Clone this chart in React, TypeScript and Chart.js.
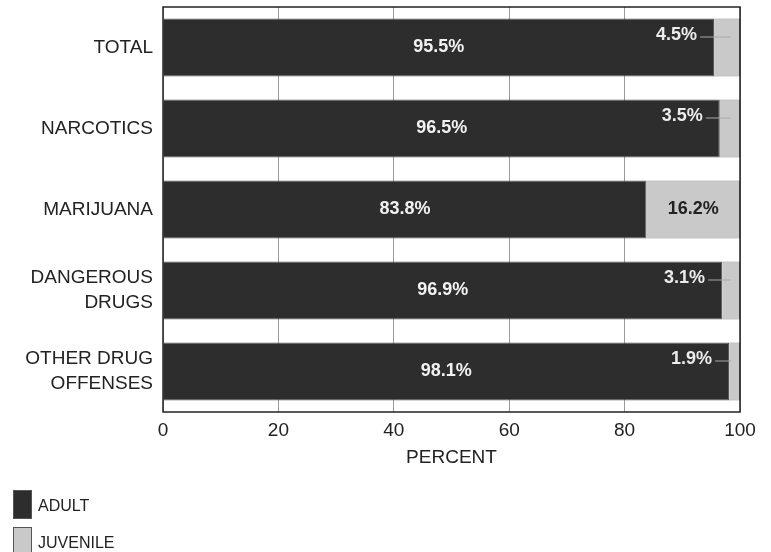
import React, { useEffect, useRef } from "react";
import { Chart, registerables } from "chart.js";

Chart.register(...registerables);

const categories: (string | string[])[] = [
  "TOTAL",
  "NARCOTICS",
  "MARIJUANA",
  ["DANGEROUS", "DRUGS"],
  ["OTHER DRUG", "OFFENSES"],
];
const adultValues = [95.5, 96.5, 83.8, 96.9, 98.1];
const juvenileValues = [4.5, 3.5, 16.2, 3.1, 1.9];
const xTicks = [0, 20, 40, 60, 80, 100];
const seriesNames = ["ADULT", "JUVENILE"];

const FONT = "'Liberation Sans', Arial, Helvetica, sans-serif";
const DARK = "#2d2d2d";
const LIGHT = "#c9c9c9";

const labelsPlugin = {
  id: "valueLabels",
  afterDatasetsDraw(chart: any) {
    const ctx = chart.ctx;
    const adultMeta = chart.getDatasetMeta(0);
    const juvMeta = chart.getDatasetMeta(1);
    ctx.save();
    ctx.font = `bold 18px ${FONT}`;
    ctx.textBaseline = "middle";
    adultMeta.data.forEach((bar: any, i: number) => {
      const a = adultValues[i];
      const j = juvenileValues[i];
      const start = bar.base;
      const end = bar.x;
      ctx.fillStyle = "#f2f2f2";
      ctx.textAlign = "center";
      ctx.fillText(a.toFixed(1) + "%", (start + end) / 2, bar.y);
      const jb = juvMeta.data[i];
      if (j >= 10) {
        ctx.fillStyle = "#222";
        ctx.textAlign = "center";
        ctx.fillText(j.toFixed(1) + "%", (jb.base + jb.x) / 2, jb.y);
      } else {
        const txt = j.toFixed(1) + "%";
        const right = end - 17;
        const ty = bar.y - 12;
        ctx.fillStyle = "#ececec";
        ctx.textAlign = "right";
        ctx.fillText(txt, right, ty);
        ctx.strokeStyle = "#a8a8a8";
        ctx.lineWidth = 1;
        ctx.beginPath();
        ctx.moveTo(right + 3, ty + 1.5);
        ctx.lineTo(jb.x - 9, ty + 1.5);
        ctx.stroke();
      }
    });
    ctx.restore();
  },
  afterDraw(chart: any) {
    const ctx = chart.ctx;
    const a = chart.chartArea;
    ctx.save();
    ctx.strokeStyle = "#222";
    ctx.lineWidth = 1.5;
    ctx.strokeRect(a.left, a.top, a.right - a.left, a.bottom - a.top);
    // legend
    const ds = chart.data.datasets;
    const rows = [490, 527];
    ds.forEach((d: any, i: number) => {
      const y = rows[i];
      ctx.fillStyle = d.backgroundColor;
      ctx.fillRect(13, y, 19, 29);
      ctx.strokeStyle = "#555";
      ctx.lineWidth = 1;
      ctx.strokeRect(13.5, y + 0.5, 18, 28);
      ctx.fillStyle = "#222";
      ctx.font = `16px ${FONT}`;
      ctx.textAlign = "left";
      ctx.textBaseline = "middle";
      ctx.fillText(d.label, 38, y + 17);
    });
    ctx.restore();
  },
};

export default function App() {
  const ref = useRef<HTMLCanvasElement | null>(null);
  useEffect(() => {
    if (!ref.current) return;
    const chart = new Chart(ref.current, {
      type: "bar",
      data: {
        labels: categories,
        datasets: [
          {
            label: seriesNames[0],
            data: adultValues,
            backgroundColor: DARK,
            borderColor: "#555",
            borderWidth: 1,
            barPercentage: 0.716,
            categoryPercentage: 1,
          },
          {
            label: seriesNames[1],
            data: juvenileValues,
            backgroundColor: LIGHT,
            borderColor: "#8a8a8a",
            borderWidth: 1,
            barPercentage: 0.716,
            categoryPercentage: 1,
          },
        ],
      },
      options: {
        indexAxis: "y",
        responsive: false,
        animation: false,
        devicePixelRatio: 1,
        layout: { padding: { top: 7, right: 31, bottom: 80, left: 0 } },
        plugins: {
          legend: { display: false },
          tooltip: { enabled: false },
        },
        scales: {
          x: {
            stacked: true,
            min: 0,
            max: 100,
            afterFit: (s: any) => {
              s.height = 60;
              s.paddingLeft = 0;
              s.paddingRight = 0;
            },
            afterBuildTicks: (s: any) => {
              s.ticks = xTicks.map((v) => ({ value: v }));
            },
            grid: { color: "#9a9a9a", lineWidth: 1, drawTicks: false },
            border: { display: false },
            ticks: {
              padding: 7,
              color: "#222",
              font: { family: FONT, size: 19 },
            },
            title: {
              display: true,
              text: "PERCENT",
              color: "#222",
              font: { family: FONT, size: 19 },
              padding: { top: 0, bottom: 3 },
            },
          },
          y: {
            stacked: true,
            afterFit: (s: any) => {
              s.width = 163;
              s.paddingTop = 0;
              s.paddingBottom = 0;
            },
            grid: { display: false, drawTicks: false },
            border: { display: false },
            ticks: {
              padding: 10,
              color: "#222",
              font: { family: FONT, size: 19, lineHeight: 1.3 },
            },
          },
        },
      },
      plugins: [labelsPlugin],
    });
    return () => chart.destroy();
  }, []);
  return (
    <div style={{ position: "absolute", left: 0, top: 0, width: 771, height: 552, background: "#fff" }}>
      <canvas ref={ref} width={771} height={552} style={{ display: "block" }} />
    </div>
  );
}
